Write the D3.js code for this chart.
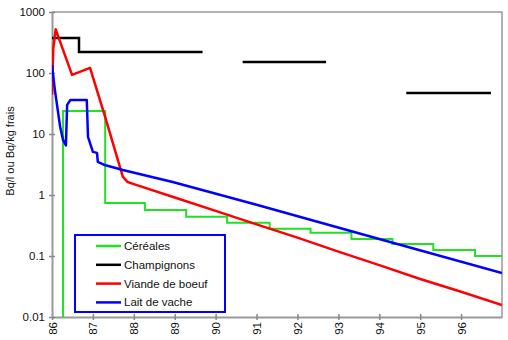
<!DOCTYPE html>
<html>
<head>
<meta charset="utf-8">
<script src="https://cdn.jsdelivr.net/npm/d3@7"></script>
<style>
  body { margin: 0; background: #fff; }
  text { font-family: Arial, 'Liberation Sans', sans-serif; }
</style>
</head>
<body>
<div id="chart-area"></div>
<script>

  // year (decimal, 86 = 1986) / activity pairs
  const cereales = [
    [86.27, 0.01], [86.27, 23.8], [87.3, 0.74], [88.27, 0.57], [89.28, 0.44],
    [90.28, 0.35], [91.32, 0.28], [92.32, 0.24], [93.32, 0.19], [94.32, 0.157],
    [95.32, 0.126], [96.34, 0.1], [97, 0.1]
  ];
  const champignons = [
    [[86, 375], [86.66, 221], [89.68, 221]],
    [[90.66, 151], [92.7, 151]],
    [[94.66, 47], [96.73, 47]]
  ];
  const viande = [
    [86.0, 44], [86.03, 250], [86.09, 520], [86.49, 93], [86.93, 121],
    [87.29, 20], [87.73, 2.0], [87.85, 1.63], [88, 1.51], [89, 0.91],
    [90, 0.55], [91, 0.33], [92, 0.2], [93, 0.118], [94, 0.071],
    [95, 0.042], [96, 0.026], [97, 0.0157]
  ];
  const lait = [
    [86.0, 135], [86.07, 53], [86.2, 13], [86.27, 8], [86.34, 6.5],
    [86.37, 30], [86.45, 36], [86.85, 36], [86.88, 9], [87.0, 5.1],
    [87.1, 4.9], [87.12, 3.5], [87.29, 3.1], [87.73, 2.57], [88.95, 1.63],
    [91, 0.69], [94, 0.19], [97, 0.0526]
  ];

  const yearTicks = [86, 87, 88, 89, 90, 91, 92, 93, 94, 95, 96];
  const valueTicks = [0.01, 0.1, 1, 10, 100, 1000];
  const valueLabels = ['0.01', '0.1', '1', '10', '100', '1000'];
  const legendNames = ['Céréales', 'Champignons', 'Viande de boeuf', 'Lait de vache'];
  const legendColors = ['#22e022', '#000000', '#ff0000', '#0000ff'];

  const width = 508;
  const height = 340;
  const plot = { left: 52, right: 502, top: 12, bottom: 317 };

  const svg = d3.select('#chart-area').append('svg')
    .attr('width', width)
    .attr('height', height);

  const scaleX = d3.scaleLinear()
    .domain([86, 97])
    .range([plot.left, plot.right]);

  const scaleY = d3.scaleLog()
    .domain([0.01, 1000])
    .range([plot.bottom, plot.top]);

  svg.append('defs').append('clipPath')
    .attr('id', 'clip')
    .append('rect')
      .attr('x', plot.left)
      .attr('y', plot.top - 2)
      .attr('width', plot.right - plot.left)
      .attr('height', plot.bottom - plot.top + 2);

  // frame (top and right)
  svg.append('path')
    .attr('d', `M${plot.left},${plot.top}H${plot.right}V${plot.bottom}`)
    .attr('fill', 'none')
    .attr('stroke', '#999')
    .attr('stroke-width', 1.5);

  const axisX = d3.axisBottom(scaleX)
    .tickValues(yearTicks)
    .tickFormat(d => `${d}`)
    .tickSize(4)
    .tickSizeOuter(0);

  const axisY = d3.axisLeft(scaleY)
    .tickValues(valueTicks)
    .tickFormat((d, i) => valueLabels[i])
    .tickSize(4)
    .tickSizeOuter(0);

  const gx = svg.append('g')
    .attr('transform', `translate(0, ${plot.bottom})`)
    .call(axisX);
  gx.selectAll('text')
    .attr('transform', 'rotate(-90)')
    .attr('x', -5)
    .attr('y', 0)
    .attr('dy', '0.35em')
    .attr('text-anchor', 'end');
  gx.selectAll('line').attr('y1', -3).attr('y2', 3);

  const gy = svg.append('g')
    .attr('transform', `translate(${plot.left}, 0)`)
    .call(axisY);
  gy.selectAll('line').attr('x1', 3).attr('x2', -3);
  gy.selectAll('text').attr('x', -7);

  [gx, gy].forEach(g => {
    g.select('.domain').attr('stroke', '#999').attr('stroke-width', 2);
    g.selectAll('.tick line').attr('stroke', '#888').attr('stroke-width', 1.5);
    g.selectAll('text')
      .attr('font-size', '11.5px')
      .attr('fill', '#111');
  });

  svg.append('text')
    .text('Bq/l ou Bq/kg frais')
    .attr('transform', `translate(14, 151) rotate(-90)`)
    .attr('text-anchor', 'middle')
    .attr('font-size', '11px')
    .attr('fill', '#111');

  const lineStep = d3.line()
    .x(d => scaleX(d[0]))
    .y(d => scaleY(d[1]))
    .curve(d3.curveStepAfter);

  const lineStraight = d3.line()
    .x(d => scaleX(d[0]))
    .y(d => scaleY(d[1]));

  const g = svg.append('g').attr('clip-path', 'url(#clip)');

  g.append('path')
    .attr('d', lineStep(cereales))
    .attr('fill', 'none')
    .attr('stroke', legendColors[0])
    .attr('stroke-width', 2);

  g.selectAll('.champ')
    .data(champignons)
    .enter().append('path')
      .attr('class', 'champ')
      .attr('d', d => lineStep(d))
      .attr('fill', 'none')
      .attr('stroke', legendColors[1])
      .attr('stroke-width', 2.5);

  g.append('path')
    .attr('d', lineStraight(viande))
    .attr('fill', 'none')
    .attr('stroke', legendColors[2])
    .attr('stroke-width', 2.5)
    .attr('stroke-linejoin', 'round');

  g.append('path')
    .attr('d', lineStraight(lait))
    .attr('fill', 'none')
    .attr('stroke', legendColors[3])
    .attr('stroke-width', 2.5)
    .attr('stroke-linejoin', 'round');

  // legend
  const legend = svg.append('g').attr('transform', 'translate(75, 235)');
  legend.append('rect')
    .attr('width', 150)
    .attr('height', 77)
    .attr('fill', '#fff')
    .attr('stroke', '#0000ff')
    .attr('stroke-width', 2);

  const items = legend.selectAll('.item')
    .data(legendNames)
    .enter().append('g')
      .attr('class', 'item')
      .attr('transform', (d, i) => `translate(0, ${11 + i * 18.8})`);

  items.append('line')
    .attr('x1', 21)
    .attr('x2', 46)
    .attr('stroke', (d, i) => legendColors[i])
    .attr('stroke-width', 2.5);

  items.append('text')
    .text(d => d)
    .attr('x', 49)
    .attr('dy', '0.35em')
    .attr('font-size', '11.5px')
    .attr('fill', '#111');

</script>
</body>
</html>
